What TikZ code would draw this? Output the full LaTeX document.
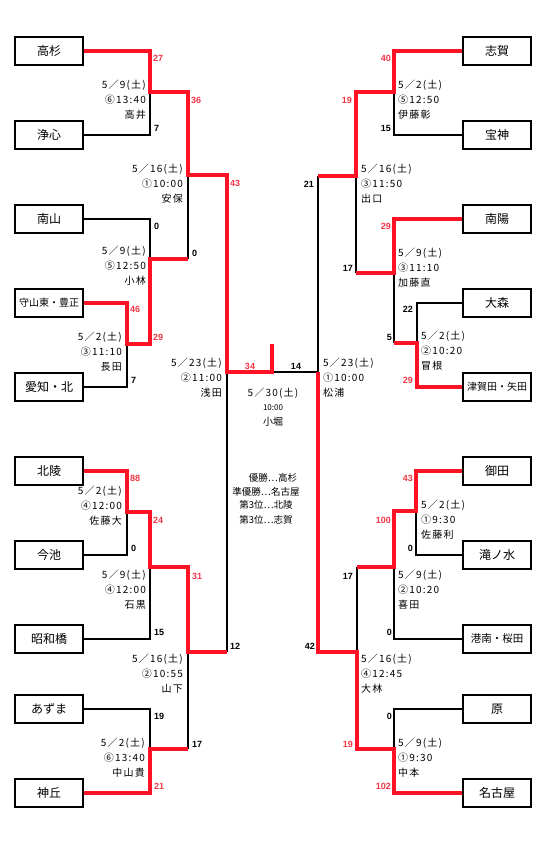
\documentclass[tikz,border=0pt]{standalone}
\usepackage{fontspec}
\newfontfamily\jp{Noto Sans CJK JP}
\newfontfamily\jpsp[LetterSpace=12]{Noto Sans CJK JP}
\newfontfamily\numf{Liberation Sans}
\definecolor{brk}{RGB}{255,18,38}
\definecolor{scred}{RGB}{240,55,70}
\begin{document}
\begin{tikzpicture}[x=1pt,y=-1pt,
  team/.style={draw,line width=2.2pt,minimum width=68pt,minimum height=28pt,inner sep=0pt,font=\jp\fontsize{12}{12}\selectfont},
  teamsm/.style={team,font=\jp\fontsize{10}{10}\selectfont},
  wl/.style={line width=3.8pt,draw=brk},
  bl/.style={line width=2pt,draw=black},
  sc/.style={font=\numf\bfseries\fontsize{9}{9}\selectfont,inner sep=0pt},
  scr/.style={sc,text=scred},
  info/.style={font=\jpsp\fontsize{10}{15}\selectfont,inner sep=0pt},
  ctr/.style={font=\jp\fontsize{10}{10}\selectfont,inner sep=0pt},
]
\useasboundingbox (0,0) rectangle (553,850);
% ---------- teams left
\node[team]   (L1)  at (49,51)  {高杉};
\node[team]   (L2)  at (49,135) {浄心};
\node[team]   (L3)  at (49,219) {南山};
\node[teamsm] (L4)  at (49,303) {守山東・豊正};
\node[team]   (L5)  at (49,387) {愛知・北};
\node[team]   (L6)  at (49,471) {北陵};
\node[team]   (L7)  at (49,555) {今池};
\node[team]   (L8)  at (49,639) {昭和橋};
\node[team]   (L9)  at (49,709) {あずま};
\node[team]   (L10) at (49,793) {神丘};
% ---------- teams right
\node[team]   (R1)  at (497,51)  {志賀};
\node[team]   (R2)  at (497,135) {宝神};
\node[team]   (R3)  at (497,219) {南陽};
\node[team]   (R4)  at (497,303) {大森};
\node[teamsm] (R5)  at (497,387) {津賀田・矢田};
\node[team]   (R6)  at (497,471) {御田};
\node[team]   (R7)  at (497,555) {滝ノ水};
\node[teamsm,font=\jp\fontsize{10.5}{10.5}\selectfont] (R8)  at (497,639) {港南・桜田};
\node[team]   (R9)  at (497,709) {原};
\node[team]   (R10) at (497,793) {名古屋};
% ---------- junction coordinates
\coordinate (jA) at (150,92);  \coordinate (jAo) at (188,92);
\coordinate (jB) at (127,344); \coordinate (jBo) at (150,344);
\coordinate (jC) at (150,259); \coordinate (jCo) at (188,259);
\coordinate (jD) at (188,175); \coordinate (jDo) at (227,175);
\coordinate (jF) at (127,512); \coordinate (jFo) at (150,512);
\coordinate (jG) at (150,567); \coordinate (jGo) at (188,567);
\coordinate (jI) at (150,749); \coordinate (jIo) at (188,749);
\coordinate (jH) at (188,652); \coordinate (jHo) at (227,652);
\coordinate (jE) at (227,372); \coordinate (fin) at (272,372); \coordinate (top) at (272,344);
\coordinate (ja) at (394,92);  \coordinate (jao) at (356,92);
\coordinate (jb) at (417,343); \coordinate (jbo) at (394,343);
\coordinate (jc) at (394,273); \coordinate (jco) at (356,273);
\coordinate (jd) at (356,176); \coordinate (jdo) at (318,176);
\coordinate (jf) at (416,511); \coordinate (jfo) at (394,511);
\coordinate (jg) at (394,567); \coordinate (jgo) at (357,567);
\coordinate (ji) at (394,749); \coordinate (jio) at (357,749);
\coordinate (jh) at (357,652); \coordinate (jho) at (318,652);
\coordinate (je) at (318,372);
% ---------- black lines
\draw[bl] (L2.east) -| (jA);
\draw[bl] (L5.east) -| (jB);
\draw[bl] (L3.east) -| (jC);
\draw[bl] (jCo) -- (jD);
\draw[bl] (L7.east) -| (jF);
\draw[bl] (L8.east) -| (jG);
\draw[bl] (L9.east) -| (jI);
\draw[bl] (jIo) -- (jH);
\draw[bl] (jHo) -- (jE);
\draw[bl] (fin) -- (je);
\draw[bl] (R2.west) -| (ja);
\draw[bl] (R4.west) -| (jb);
\draw[bl] (jbo) -- (jc);
\draw[bl] (jco) -- (jd);
\draw[bl] (jdo) -- (je);
\draw[bl] (R7.west) -| (jf);
\draw[bl] (R8.west) -| (jg);
\draw[bl] (R9.west) -| (ji);
\draw[bl] (jgo) -- (jh);
% ---------- red lines
\draw[wl] (L1.east) -| (jA) -- (jAo) -- (jD) -- (jDo) -- (jE) -- (fin) -- (top);
\draw[wl] (L4.east) -| (jB) -- (jBo) -- (jC) -- (jCo);
\draw[wl] (L6.east) -| (jF) -- (jFo) -- (jG) -- (jGo) -- (jH) -- (jHo);
\draw[wl] (L10.east) -| (jI) -- (jIo);
\draw[wl] (R1.west) -| (ja) -- (jao) -- (jd) -- (jdo);
\draw[wl] (R3.west) -| (jc) -- (jco);
\draw[wl] (R5.west) -| (jb) -- (jbo);
\draw[wl] (R6.west) -| (jf) -- (jfo) -- (jg) -- (jgo);
\draw[wl] (R10.west) -| (ji) -- (jio) -- (jh) -- (jho) -- (je);
% ---------- scores left
\node[scr,anchor=west] (s1) at (153,58) {27};
\node[sc,anchor=west]  (s2) at (154,128) {7};
\node[scr,anchor=west] (s3) at (191,100) {36};
\node[scr,anchor=west] (s4) at (230,183) {43};
\node[sc,anchor=west]  (s5) at (154,226) {0};
\node[sc,anchor=west]  (s6) at (192,253) {0};
\node[scr,anchor=west] (s7) at (130,309) {46};
\node[scr,anchor=west] (s8) at (153,337) {29};
\node[sc,anchor=west]  (s9) at (131,380) {7};
\node[scr] (s10) at (250,366) {34};
\node[sc]  (s11) at (296,366) {14};
\node[scr,anchor=west] (s12) at (130,478) {88};
\node[sc,anchor=west]  (s13) at (131,548) {0};
\node[scr,anchor=west] (s14) at (153,520) {24};
\node[scr,anchor=west] (s15) at (192,576) {31};
\node[sc,anchor=west]  (s16) at (154,632) {15};
\node[sc,anchor=west]  (s17) at (230,646) {12};
\node[sc,anchor=west]  (s18) at (154,716) {19};
\node[sc,anchor=west]  (s19) at (192,744) {17};
\node[scr,anchor=west] (s20) at (154,786) {21};
% ---------- scores right
\node[scr,anchor=east] (t1) at (391,58) {40};
\node[sc,anchor=east]  (t2) at (391,128) {15};
\node[scr,anchor=east] (t3) at (352,100) {19};
\node[sc,anchor=east]  (t4) at (314,184) {21};
\node[scr,anchor=east] (t5) at (391,226) {29};
\node[sc,anchor=east]  (t6) at (353,268) {17};
\node[sc,anchor=east]  (t7) at (413,309) {22};
\node[sc,anchor=east]  (t8) at (392,337) {5};
\node[scr,anchor=east] (t9) at (413,380) {29};
\node[scr,anchor=east] (t10) at (413,478) {43};
\node[scr,anchor=east] (t11) at (391,520) {100};
\node[sc,anchor=east]  (t12) at (413,548) {0};
\node[sc,anchor=east]  (t13) at (353,576) {17};
\node[sc,anchor=east]  (t14) at (392,632) {0};
\node[sc,anchor=east]  (t15) at (315,646) {42};
\node[sc,anchor=east]  (t16) at (392,716) {0};
\node[scr,anchor=east] (t17) at (353,744) {19};
\node[scr,anchor=east] (t18) at (391,786) {102};
% ---------- match info left
\node[info,anchor=east,align=right] (m1) at (146,100) {5／9(土)\\⑥13:40\\高井};
\node[info,anchor=east,align=right] (m2) at (183,184) {5／16(土)\\①10:00\\安保};
\node[info,anchor=east,align=right] (m3) at (146,266) {5／9(土)\\⑤12:50\\小林};
\node[info,anchor=east,align=right] (m4) at (122,352) {5／2(土)\\③11:10\\長田};
\node[info,anchor=east,align=right] (m5) at (222,378) {5／23(土)\\②11:00\\浅田};
\node[info,anchor=east,align=right] (m6) at (122,506) {5／2(土)\\④12:00\\佐藤大};
\node[info,anchor=east,align=right] (m7) at (146,590) {5／9(土)\\④12:00\\石黒};
\node[info,anchor=east,align=right] (m8) at (183,674) {5／16(土)\\②10:55\\山下};
\node[info,anchor=east,align=right] (m9) at (145,758) {5／2(土)\\⑥13:40\\中山貴};
% ---------- match info right
\node[info,anchor=west,align=left] (n1) at (398,100) {5／2(土)\\⑤12:50\\伊藤彰};
\node[info,anchor=west,align=left] (n2) at (361,184) {5／16(土)\\③11:50\\出口};
\node[info,anchor=west,align=left] (n3) at (398,268) {5／9(土)\\③11:10\\加藤直};
\node[info,anchor=west,align=left] (n4) at (421,351) {5／2(土)\\②10:20\\冒根};
\node[info,anchor=west,align=left] (n5) at (323,378) {5／23(土)\\①10:00\\松浦};
\node[info,anchor=west,align=left] (n6) at (421,520) {5／2(土)\\①9:30\\佐藤利};
\node[info,anchor=west,align=left] (n7) at (398,590) {5／9(土)\\②10:20\\喜田};
\node[info,anchor=west,align=left] (n8) at (361,674) {5／16(土)\\④12:45\\大林};
\node[info,anchor=west,align=left] (n9) at (398,758) {5／9(土)\\①9:30\\中本};
% ---------- final
\node[info] (f1) at (273,393) {5／30(土)};
\node[ctr,font=\jp\fontsize{8}{8}\selectfont] (f2) at (273,408) {10:00};
\node[ctr] (f3) at (273,422) {小堀};
\node[ctr,font=\jp\fontsize{9.5}{9.5}\selectfont] (r1) at (273,478) {優勝…高杉};
\node[ctr,font=\jp\fontsize{9.5}{9.5}\selectfont] (r2) at (266,492) {準優勝…名古屋};
\node[ctr,font=\jp\fontsize{9.5}{9.5}\selectfont] (r3) at (266,505) {第3位…北陵};
\node[ctr,font=\jp\fontsize{9.5}{9.5}\selectfont] (r4) at (266,520) {第3位…志賀};
\end{tikzpicture}
\end{document}
